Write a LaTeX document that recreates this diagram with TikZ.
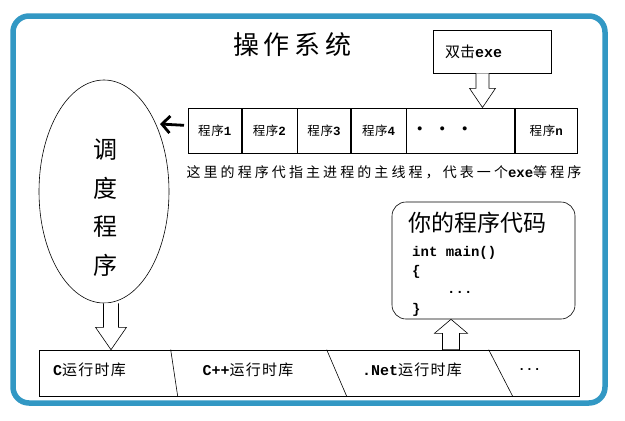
\documentclass[tikz,border=0pt]{standalone}
\usepackage{fontspec}
\setmainfont{Noto Sans CJK SC}
\newfontfamily\mono{Liberation Mono}
\usetikzlibrary{shapes.geometric,arrows.meta,calc}
\definecolor{framec}{RGB}{50,152,196}
\begin{document}
\begin{tikzpicture}[x=1pt,y=-1pt,
  box/.style={draw, line width=0.6pt, inner sep=0pt},
  blockarr/.style={draw, fill=white, line width=0.6pt, line join=miter},
  cell/.style={box, minimum height=45pt, font=\fontsize{12.5}{12.5}\selectfont\addfontfeature{LetterSpace=5}},
  rtxt/.style={font=\fontsize{15}{15}\selectfont\addfontfeature{LetterSpace=8}},
]
\useasboundingbox (0,0) rectangle (625,421);
\fill[white] (0,0) rectangle (625,421);
\draw[framec, line width=5.5pt, rounded corners=16pt] (13,16) rectangle (605,403);

% title
\node[font=\fontsize{26}{26}\selectfont] (title) at (292.5,45) {操\hspace{5pt}作\hspace{5pt}系\hspace{5pt}统};

% double-click box
\node[box, minimum height=43pt, text width=94pt, inner xsep=12pt, align=left,
      font=\fontsize{15}{15}\selectfont] (exe) at (492,51.5) {双击{\mono\bfseries exe}};

% program row
\node[cell, minimum width=53pt, anchor=north west] (c1) at (188,107.5) {程序{\mono\bfseries 1}};
\node[cell, minimum width=55pt, anchor=north west] (c2) at (c1.north east) {程序{\mono\bfseries 2}};
\node[cell, minimum width=53pt, anchor=north west] (c3) at (c2.north east) {程序{\mono\bfseries 3}};
\node[cell, minimum width=55pt, anchor=north west] (c4) at (c3.north east) {程序{\mono\bfseries 4}};
\node[cell, text width=90pt, inner xsep=9pt, align=left, anchor=north west] (c5) at (c4.north east)
  {{\mono\bfseries\fontsize{14}{14}\selectfont •\hspace{14pt}•\hspace{14pt}•}};
\node[cell, minimum width=62pt, anchor=north west] (c6) at (c5.north east) {程序{\mono\bfseries n}};

% caption
\node[font=\fontsize{14}{14}\selectfont\addfontfeature{LetterSpace=22}] (cap) at (384,172)
  {这里的程序代指主进程的主线程，代表一个{\mono\bfseries exe}等程序};

% scheduler ellipse
\node[ellipse, draw, line width=0.6pt, minimum width=130pt, minimum height=223pt, inner sep=0pt] (sched) at (104,191.5) {};
\node[font=\fontsize{24}{38.5}\selectfont, align=center] (schedtxt) at (105,207.5) {调\\度\\程\\序};

% left thick arrow
\coordinate (la1) at ($(c1.west)+(-4,-5)$);
\coordinate (la2) at (160,124);
\draw[line width=2.8pt, -{Straight Barb[length=8pt,width=17pt]}] (la1) -- (la2);

% code box
\node[box, rounded corners=14pt, minimum width=183pt, minimum height=117pt] (code) at (483.5,260.5) {};
\node[font=\fontsize{23}{23}\selectfont] (codetitle) at (477.5,223) {你的程序代码};
\node[anchor=base west, inner sep=0pt, font=\mono\bfseries\fontsize{14}{14}\selectfont] (codeL1) at (412,256) {int main()};
\node[anchor=base west, inner sep=0pt, font=\mono\bfseries\fontsize{14}{14}\selectfont] (codeL2) at (412,275) {\{};
\node[anchor=base west, inner sep=0pt, font=\mono\bfseries\fontsize{14}{14}\selectfont] (codeL3) at (447,293) {...};
\node[anchor=base west, inner sep=0pt, font=\mono\bfseries\fontsize{14}{14}\selectfont] (codeL4) at (412,313) {\}};

% runtime row
\node[box, minimum width=540pt, minimum height=46pt] (rt) at (309,373) {};
\draw[line width=0.6pt] ($(rt.north west)+(132,0)$) -- ($(rt.south west)+(139,0)$);
\draw[line width=0.6pt] ($(rt.north west)+(288,0)$) -- ($(rt.south west)+(308,0)$);
\draw[line width=0.6pt] ($(rt.north west)+(450,0)$) -- ($(rt.south west)+(474,0)$);
\node[rtxt] (rt1) at (89.5,370) {{\mono\bfseries C}运行时库};
\node[rtxt] (rt2) at (248,370) {{\mono\bfseries C++}运行时库};
\node[rtxt] (rt3) at (412,370) {{\mono\bfseries .Net}运行时库};
\node[font=\mono\bfseries\fontsize{13}{13}\selectfont] (rt4) at (529.5,370) {...};

% block arrow: exe -> program row
\coordinate (a1t) at ($(exe.south)+(-9.5,0)$);
\draw[blockarr] ($(a1t)+(-6.5,0)$) -- ($(a1t)+(-6.5,15)$) -- ($(a1t)+(-13,15)$) -- (a1t |- c5.north)
  -- ($(a1t)+(13,15)$) -- ($(a1t)+(6.5,15)$) -- ($(a1t)+(6.5,0)$);

% block arrow: scheduler -> runtime row
\coordinate (a2t) at ($(sched.south)+(7,0)$);
\draw[blockarr] ($(a2t)+(-7.5,0)$) -- ($(a2t)+(-7.5,24)$) -- ($(a2t)+(-15.5,24)$) -- (a2t |- rt.north)
  -- ($(a2t)+(15.5,24)$) -- ($(a2t)+(7.5,24)$) -- ($(a2t)+(7.5,0)$);

% block arrow: runtime row -> code box
\coordinate (a3t) at ($(code.south)+(-32.5,0)$);
\coordinate (a3b) at (a3t |- rt.north);
\draw[blockarr] (a3t) -- ($(a3t)+(16.5,14)$) -- ($(a3t)+(8.5,14)$) -- ($(a3b)+(8.5,0)$)
  -- ($(a3b)+(-8.5,0)$) -- ($(a3t)+(-8.5,14)$) -- ($(a3t)+(-16.5,14)$) -- cycle;
\end{tikzpicture}
\end{document}
